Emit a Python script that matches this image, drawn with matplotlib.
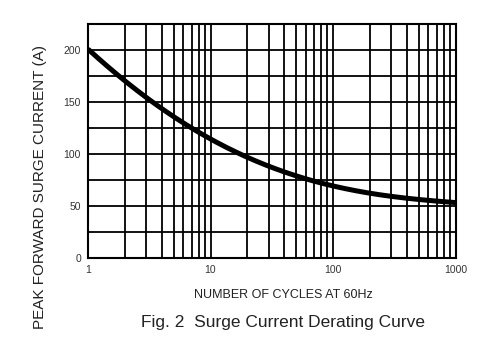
import numpy as np
import matplotlib
matplotlib.use("Agg")
import matplotlib.pyplot as plt

plt.rcParams['font.family'] = ['Liberation Sans', 'DejaVu Sans']

# curve
cycles = [1, 2, 3, 5, 7, 10, 20, 30, 50, 100, 200, 500, 1000]
current = [200, 173, 154, 135, 124, 115, 98, 88, 79, 71, 62, 56, 54]

x_ticks = [1, 10, 100, 1000]
x_tick_labels = ['1', '10', '100', '1000']
y_ticks = [0, 50, 100, 150, 200]

fig = plt.figure(figsize=(5, 3.58), dpi=100)
ax = fig.add_axes([0.176, 0.278, 0.735, 0.655])

# smooth the curve in log space
lx = np.log10(cycles)
coef = np.polyfit(lx, current, 4)
fine = np.linspace(lx[0], lx[-1], 300)
ax.plot(10 ** fine, np.polyval(coef, fine), color='black', lw=3.6,
        solid_capstyle='butt', zorder=3)

ax.set_xscale('log')
ax.set_xlim(1, 1000)
ax.set_ylim(0, 225)
ax.set_xticks(x_ticks)
ax.set_xticklabels(x_tick_labels)
ax.set_yticks(y_ticks)
ax.set_yticks(np.arange(0, 226, 25), minor=True)
ax.xaxis.set_minor_locator(matplotlib.ticker.LogLocator(base=10, subs=np.arange(2, 10)))
ax.xaxis.set_minor_formatter(matplotlib.ticker.NullFormatter())

ax.grid(True, which='both', color='black', lw=1.3)
ax.tick_params(which='both', length=0, labelsize=7.5, labelcolor='#333333', pad=5)
for s in ax.spines.values():
    s.set_linewidth(1.5)

fig.text(0.08, 0.478, 'PEAK FORWARD SURGE CURRENT (A)', rotation=90,
         ha='center', va='center', fontsize=11, color='#222222')
fig.text(0.566, 0.175, 'NUMBER OF CYCLES AT 60Hz', ha='center', va='center',
         fontsize=9, color='#222222')
fig.text(0.566, 0.098, 'Fig. 2  Surge Current Derating Curve', ha='center',
         va='center', fontsize=12.5, color='#222222')

fig.savefig('out.png', dpi=100)
